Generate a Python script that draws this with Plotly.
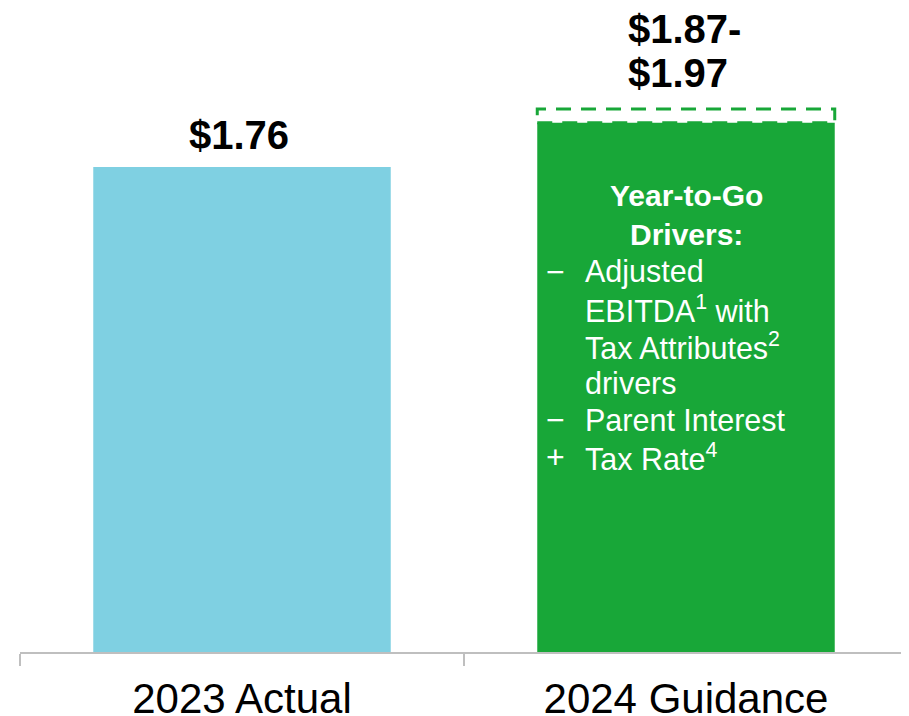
import plotly.graph_objects as go

# ---- data ----
categories = ["2023 Actual", "2024 Guidance"]
actual_eps = 1.76
guidance_low = 1.87
guidance_high = 1.97
guidance_mid = round((guidance_low + guidance_high) / 2, 2)
bar_values = [actual_eps, guidance_mid]
bar_colors = ["#7FD0E2", "#18A738"]
heading_lines = ["Year-to-Go", "Drivers:"]
driver_symbols = ["−", "", "", "", "−", "+"]
driver_lines = ["Adjusted", "EBITDA<sup>1</sup> with", "Tax Attributes<sup>2</sup>",
                "drivers", "Parent Interest", "Tax Rate<sup>4</sup>"]

FONT = "Arial, Liberation Sans, sans-serif"
PAGE_OFF = 8            # default body margin of the html page
W, H = 909 - PAGE_OFF, 716 - PAGE_OFF
L, R, T, B = 20 - PAGE_OFF, 1, 12 - PAGE_OFF, 64
PLOT_TOP, PLOT_BOTTOM, PLOT_LEFT, PLOT_RIGHT = 12, 652, 20, 908   # page pixels
BAR_W = 0.67
YMAX = 2.322


def py(pix):
    """page pixel y -> paper y"""
    return (PLOT_BOTTOM - pix) / (PLOT_BOTTOM - PLOT_TOP)


def px(pix):
    return (pix - PLOT_LEFT) / (PLOT_RIGHT - PLOT_LEFT)


fig = go.Figure()
fig.add_trace(go.Bar(
    x=categories, y=bar_values, width=BAR_W,
    marker=dict(color=bar_colors, line=dict(width=0)),
    hoverinfo="skip",
))

# dashed guidance range box
fig.add_shape(type="rect", xref="x", yref="y",
              x0=1 - BAR_W / 2, x1=1 + BAR_W / 2,
              y0=guidance_mid, y1=guidance_high,
              line=dict(color="#18A738", width=3, dash="15px,10px"),
              fillcolor="rgba(0,0,0,0)", layer="above")

# value labels
fig.add_annotation(x=0, y=actual_eps, xref="x", yref="y", text="<b>$%.2f</b>" % actual_eps,
                   showarrow=False, yanchor="middle", yshift=32, xshift=-3,
                   font=dict(family=FONT, size=40, color="black"))
fig.add_annotation(x=1, y=guidance_high, xref="x", yref="y",
                   text="<b>$%.2f-</b>" % guidance_low,
                   showarrow=False, yanchor="middle", xanchor="left", xshift=-60, yshift=80,
                   font=dict(family=FONT, size=40, color="black"))
fig.add_annotation(x=1, y=guidance_high, xref="x", yref="y",
                   text="<b>$%.2f</b>" % guidance_high,
                   showarrow=False, yanchor="middle", xanchor="left", xshift=-60, yshift=36,
                   font=dict(family=FONT, size=40, color="black"))

# heading inside the green bar
fig.add_annotation(x=1, y=py(215), xref="x", yref="paper",
                   text="<b>" + "<br>".join(heading_lines) + "</b>",
                   showarrow=False, yanchor="middle", align="center",
                   font=dict(family=FONT, size=30, color="white"))
# driver list, one line each
first_line, step = 271.5, 37.0
for i, (sym, line) in enumerate(zip(driver_symbols, driver_lines)):
    ypos = py(first_line + i * step)
    if sym:
        fig.add_annotation(x=px(544), y=ypos, xref="paper", yref="paper", text=sym,
                           showarrow=False, yanchor="middle", xanchor="left",
                           font=dict(family=FONT, size=32, color="white"))
    fig.add_annotation(x=px(583), y=ypos, xref="paper", yref="paper", text=line,
                       showarrow=False, yanchor="middle", xanchor="left", align="left",
                       font=dict(family=FONT, size=30.5, color="white"))

fig.update_layout(
    width=W, height=H,
    margin=dict(l=L, r=R, t=T, b=B, autoexpand=False),
    paper_bgcolor="white", plot_bgcolor="white",
    showlegend=False,
    xaxis=dict(type="category", range=[-0.5, 1.5], showline=True, linecolor="#BFBFBF",
               linewidth=1.5, ticks="outside", tickson="boundaries", ticklen=12,
               tickcolor="#BFBFBF", tickwidth=1.5, showgrid=False, ticklabelstandoff=9,
               automargin=False,
               tickfont=dict(family=FONT, size=42, color="black")),
    yaxis=dict(visible=False, range=[0, YMAX], showgrid=False, zeroline=False,
               automargin=False),
)

fig.write_html("out.html")
